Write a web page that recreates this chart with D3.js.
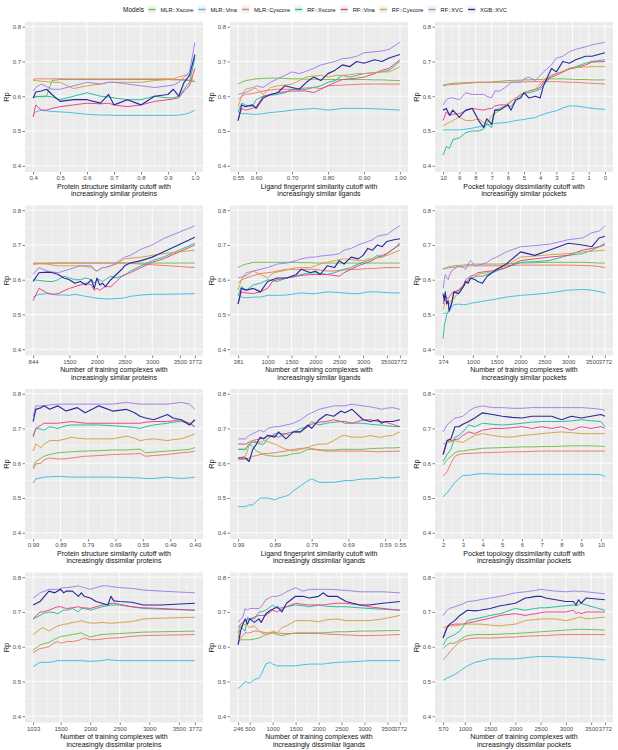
<!DOCTYPE html>
<html><head><meta charset="utf-8">
<script src="https://cdn.jsdelivr.net/npm/d3@7"></script>
<style>
body{margin:0;background:#fff}
svg{display:block}
text{font-family:"Liberation Sans",Arial,Helvetica,sans-serif}
</style></head>
<body><svg id="c" width="618" height="750"></svg>
<script>
const MODELS = ["MLR::Xscore","MLR::Vina","MLR::Cyscore","RF::Xscore","RF::Vina","RF::Cyscore","RF::XVC","XGB::XVC"];
const COLORS = ["#6DBE45","#3CBDE6","#F07470","#1EBC9C","#E8407F","#D4A03C","#A77BEA","#2A2A9C"];
const Y_TICKS = [0.4,0.5,0.6,0.7,0.8];

// Panel 1: protein similarity cutoff, increasingly similar
const P1_X = [0.40,0.41,0.43,0.45,0.47,0.50,0.55,0.60,0.65,0.68,0.70,0.75,0.80,0.85,0.90,0.92,0.94,0.96,0.98,1.00];
const P1_Y = [
 [0.597,0.600,0.598,0.600,0.645,0.648,0.648,0.648,0.648,0.648,0.648,0.648,0.648,0.648,0.648,0.647,0.647,0.646,0.645,0.642],
 [0.548,0.555,0.560,0.558,0.556,0.555,0.552,0.548,0.546,0.546,0.545,0.545,0.545,0.545,0.545,0.545,0.546,0.548,0.552,0.560],
 [0.648,0.650,0.650,0.650,0.650,0.650,0.650,0.650,0.650,0.650,0.650,0.650,0.650,0.650,0.650,0.649,0.648,0.648,0.646,0.642],
 [0.595,0.598,0.600,0.600,0.598,0.590,0.600,0.610,0.600,0.598,0.595,0.590,0.590,0.600,0.595,0.595,0.600,0.620,0.640,0.710],
 [0.540,0.575,0.560,0.560,0.565,0.570,0.575,0.580,0.578,0.580,0.575,0.570,0.575,0.585,0.590,0.592,0.595,0.615,0.630,0.680],
 [0.645,0.645,0.643,0.642,0.640,0.640,0.622,0.630,0.635,0.640,0.640,0.640,0.640,0.645,0.648,0.650,0.655,0.660,0.662,0.640],
 [0.615,0.625,0.635,0.628,0.620,0.620,0.630,0.640,0.635,0.640,0.640,0.635,0.630,0.625,0.630,0.632,0.640,0.655,0.670,0.755],
 [0.595,0.612,0.615,0.620,0.605,0.585,0.590,0.590,0.580,0.605,0.575,0.590,0.575,0.600,0.605,0.620,0.600,0.640,0.660,0.720]];
const P1_TICKS = [0.4,0.5,0.6,0.7,0.8,0.9,1.0];

// Panel 2: ligand similarity cutoff, increasingly similar
const P2_X = [0.55,0.56,0.57,0.59,0.60,0.62,0.64,0.66,0.68,0.70,0.72,0.74,0.76,0.78,0.80,0.82,0.84,0.86,0.88,0.90,0.93,0.95,0.97,1.00];
const P2_Y = [
 [0.635,0.640,0.645,0.648,0.650,0.651,0.652,0.652,0.651,0.650,0.650,0.649,0.649,0.648,0.648,0.648,0.648,0.648,0.648,0.648,0.647,0.647,0.646,0.645],
 [0.555,0.550,0.550,0.548,0.548,0.550,0.553,0.555,0.557,0.560,0.562,0.563,0.565,0.563,0.560,0.562,0.565,0.565,0.565,0.565,0.564,0.563,0.562,0.560],
 [0.590,0.600,0.605,0.608,0.610,0.615,0.618,0.620,0.620,0.620,0.622,0.624,0.625,0.622,0.630,0.631,0.632,0.633,0.634,0.635,0.635,0.635,0.635,0.635],
 [0.555,0.580,0.575,0.570,0.590,0.600,0.603,0.605,0.610,0.620,0.618,0.620,0.625,0.630,0.640,0.645,0.660,0.655,0.660,0.665,0.668,0.670,0.675,0.700],
 [0.530,0.565,0.560,0.565,0.570,0.600,0.605,0.610,0.613,0.615,0.615,0.615,0.610,0.620,0.630,0.640,0.648,0.650,0.652,0.655,0.665,0.675,0.680,0.705],
 [0.570,0.600,0.620,0.625,0.622,0.605,0.625,0.630,0.632,0.635,0.645,0.655,0.658,0.660,0.655,0.660,0.660,0.662,0.665,0.665,0.668,0.670,0.670,0.685],
 [0.605,0.608,0.610,0.620,0.630,0.625,0.640,0.650,0.660,0.670,0.665,0.672,0.680,0.690,0.695,0.700,0.708,0.710,0.715,0.725,0.728,0.730,0.735,0.755],
 [0.530,0.575,0.570,0.575,0.565,0.595,0.605,0.610,0.630,0.625,0.620,0.640,0.655,0.645,0.665,0.675,0.690,0.685,0.700,0.695,0.705,0.700,0.710,0.720]];
const P2_TICKS = [0.55,0.60,0.70,0.80,0.90,1.00];

// Panel 3: pocket dissimilarity cutoff, increasingly similar (reversed axis)
const P3_X = [10,9.8,9.6,9.4,9.0,8.6,8.2,7.8,7.5,7.3,7.0,6.8,6.5,6.0,5.8,5.5,5.2,5.0,4.7,4.3,4.0,3.8,3.3,3.0,2.6,2.2,1.8,1.2,0.8,0];
const P3_Y = [
 [0.632,0.634,0.636,0.637,0.638,0.639,0.640,0.640,0.640,0.640,0.641,0.642,0.643,0.645,0.645,0.646,0.646,0.647,0.647,0.648,0.648,0.649,0.650,0.650,0.650,0.649,0.648,0.648,0.647,0.647],
 [0.503,0.503,0.503,0.503,0.503,0.505,0.508,0.512,0.515,0.518,0.520,0.522,0.523,0.525,0.527,0.530,0.532,0.533,0.536,0.538,0.545,0.548,0.555,0.558,0.566,0.572,0.572,0.568,0.565,0.562],
 [0.630,0.632,0.633,0.634,0.635,0.637,0.638,0.640,0.640,0.640,0.640,0.640,0.640,0.640,0.640,0.641,0.641,0.641,0.642,0.642,0.642,0.642,0.642,0.642,0.641,0.640,0.640,0.638,0.637,0.635],
 [0.430,0.455,0.450,0.475,0.480,0.495,0.500,0.500,0.505,0.520,0.510,0.560,0.565,0.575,0.570,0.590,0.600,0.610,0.610,0.615,0.620,0.630,0.660,0.665,0.670,0.680,0.685,0.695,0.700,0.705],
 [0.530,0.555,0.545,0.548,0.550,0.558,0.565,0.562,0.560,0.563,0.565,0.572,0.575,0.575,0.585,0.595,0.605,0.610,0.615,0.620,0.625,0.640,0.655,0.660,0.670,0.678,0.682,0.690,0.698,0.700],
 [0.515,0.520,0.525,0.530,0.540,0.530,0.530,0.535,0.525,0.520,0.545,0.550,0.560,0.580,0.585,0.595,0.605,0.610,0.615,0.620,0.635,0.645,0.660,0.665,0.672,0.680,0.682,0.684,0.685,0.685],
 [0.575,0.590,0.595,0.595,0.590,0.610,0.605,0.605,0.605,0.600,0.595,0.615,0.615,0.630,0.640,0.640,0.640,0.650,0.655,0.645,0.660,0.670,0.690,0.710,0.715,0.728,0.735,0.742,0.748,0.755],
 [0.560,0.565,0.545,0.560,0.540,0.560,0.565,0.530,0.510,0.535,0.520,0.560,0.560,0.575,0.560,0.590,0.595,0.610,0.595,0.600,0.595,0.630,0.680,0.670,0.700,0.695,0.705,0.715,0.715,0.725]];
const P3_TICKS = [10,9,8,7,6,5,4,3,2,1,0];

// Panel 4: training complexes, increasingly similar proteins
const P4_X = [844,950,1100,1200,1300,1400,1500,1600,1700,1800,1900,1950,2000,2050,2100,2150,2250,2350,2450,2500,2600,2800,3000,3200,3772];
const P4_Y = [
 [0.645,0.646,0.647,0.648,0.648,0.648,0.648,0.648,0.648,0.648,0.648,0.648,0.648,0.648,0.648,0.648,0.648,0.648,0.648,0.648,0.648,0.648,0.648,0.648,0.648],
 [0.550,0.558,0.560,0.558,0.556,0.556,0.555,0.558,0.555,0.552,0.550,0.548,0.547,0.546,0.546,0.545,0.545,0.546,0.547,0.548,0.552,0.556,0.558,0.558,0.560],
 [0.648,0.648,0.648,0.648,0.648,0.648,0.648,0.648,0.648,0.648,0.648,0.648,0.648,0.648,0.648,0.648,0.648,0.648,0.648,0.648,0.647,0.645,0.643,0.641,0.635],
 [0.600,0.598,0.595,0.595,0.600,0.610,0.605,0.600,0.600,0.605,0.600,0.590,0.600,0.600,0.595,0.600,0.610,0.605,0.610,0.612,0.625,0.640,0.655,0.665,0.705],
 [0.540,0.575,0.562,0.558,0.560,0.568,0.575,0.580,0.585,0.590,0.585,0.570,0.575,0.570,0.575,0.580,0.580,0.595,0.610,0.615,0.620,0.635,0.650,0.660,0.700],
 [0.645,0.646,0.645,0.642,0.640,0.640,0.640,0.640,0.640,0.638,0.635,0.628,0.625,0.630,0.635,0.635,0.640,0.645,0.655,0.660,0.662,0.665,0.670,0.675,0.685],
 [0.615,0.635,0.625,0.622,0.620,0.625,0.630,0.635,0.640,0.640,0.640,0.630,0.625,0.630,0.635,0.635,0.640,0.648,0.660,0.665,0.670,0.688,0.700,0.718,0.755],
 [0.595,0.620,0.622,0.620,0.615,0.605,0.600,0.590,0.595,0.585,0.600,0.575,0.605,0.585,0.590,0.580,0.600,0.615,0.630,0.640,0.648,0.655,0.665,0.680,0.722]];
const P4_TICKS = [844,1500,2000,2500,3000,3500,3772];

// Panel 5: training complexes, increasingly similar ligands
const P5_X = [381,450,550,700,850,1000,1100,1200,1400,1600,1700,1900,2000,2100,2250,2400,2500,2600,2750,2900,3000,3100,3200,3300,3400,3500,3650,3772];
const P5_Y = [
 [0.635,0.640,0.645,0.650,0.650,0.650,0.650,0.650,0.650,0.650,0.649,0.649,0.648,0.648,0.648,0.648,0.648,0.648,0.648,0.648,0.648,0.648,0.648,0.648,0.648,0.648,0.648,0.648],
 [0.555,0.550,0.548,0.550,0.550,0.555,0.555,0.555,0.556,0.560,0.562,0.560,0.560,0.562,0.565,0.564,0.563,0.562,0.560,0.560,0.562,0.565,0.565,0.565,0.564,0.563,0.562,0.562],
 [0.590,0.600,0.605,0.612,0.618,0.620,0.622,0.625,0.630,0.630,0.630,0.630,0.630,0.628,0.625,0.625,0.627,0.628,0.630,0.630,0.631,0.632,0.632,0.633,0.634,0.635,0.635,0.635],
 [0.555,0.580,0.570,0.585,0.590,0.600,0.598,0.595,0.605,0.610,0.615,0.620,0.620,0.618,0.615,0.620,0.625,0.630,0.635,0.645,0.650,0.655,0.660,0.670,0.665,0.675,0.690,0.700],
 [0.530,0.565,0.562,0.560,0.565,0.575,0.595,0.600,0.605,0.610,0.612,0.615,0.615,0.615,0.615,0.612,0.610,0.620,0.630,0.640,0.645,0.650,0.655,0.665,0.670,0.675,0.690,0.705],
 [0.570,0.600,0.620,0.625,0.615,0.605,0.618,0.622,0.628,0.635,0.635,0.635,0.640,0.645,0.650,0.655,0.658,0.660,0.658,0.655,0.655,0.660,0.660,0.662,0.665,0.670,0.678,0.685],
 [0.605,0.608,0.612,0.625,0.630,0.635,0.640,0.645,0.648,0.655,0.660,0.665,0.665,0.668,0.670,0.672,0.675,0.685,0.690,0.700,0.705,0.710,0.715,0.725,0.728,0.730,0.745,0.755],
 [0.530,0.575,0.570,0.575,0.565,0.595,0.600,0.605,0.605,0.615,0.630,0.620,0.625,0.615,0.640,0.635,0.655,0.645,0.665,0.660,0.670,0.690,0.685,0.700,0.695,0.710,0.715,0.718]];
const P5_TICKS = [381,1000,1500,2000,2500,3000,3500,3772];

// Panel 6: training complexes, increasingly similar pockets
const P6_X = [374,400,420,450,480,500,550,600,700,800,850,900,950,1050,1100,1200,1300,1400,1500,1700,2000,2300,2600,3000,3300,3500,3650,3772];
const P6_Y = [
 [0.632,0.633,0.634,0.635,0.636,0.637,0.638,0.640,0.641,0.642,0.643,0.643,0.644,0.645,0.645,0.645,0.645,0.645,0.645,0.646,0.648,0.649,0.650,0.650,0.650,0.649,0.648,0.648],
 [0.503,0.503,0.503,0.505,0.508,0.510,0.520,0.528,0.530,0.528,0.528,0.530,0.532,0.535,0.535,0.538,0.540,0.542,0.545,0.550,0.555,0.558,0.562,0.570,0.572,0.570,0.566,0.562],
 [0.630,0.631,0.632,0.633,0.634,0.634,0.635,0.635,0.637,0.638,0.639,0.640,0.640,0.640,0.640,0.640,0.640,0.640,0.640,0.641,0.642,0.642,0.642,0.642,0.641,0.640,0.638,0.635],
 [0.430,0.470,0.480,0.500,0.505,0.510,0.530,0.560,0.570,0.580,0.590,0.600,0.605,0.608,0.610,0.610,0.615,0.620,0.625,0.635,0.650,0.652,0.655,0.670,0.675,0.685,0.695,0.705],
 [0.530,0.545,0.555,0.548,0.545,0.550,0.560,0.565,0.570,0.585,0.600,0.605,0.610,0.615,0.620,0.622,0.624,0.625,0.628,0.635,0.655,0.660,0.665,0.670,0.685,0.690,0.695,0.700],
 [0.515,0.525,0.540,0.535,0.530,0.530,0.540,0.545,0.565,0.580,0.590,0.595,0.600,0.610,0.615,0.618,0.620,0.625,0.630,0.640,0.665,0.668,0.672,0.675,0.680,0.682,0.684,0.685],
 [0.575,0.600,0.615,0.605,0.600,0.610,0.625,0.630,0.640,0.635,0.630,0.645,0.655,0.640,0.642,0.645,0.650,0.660,0.665,0.680,0.695,0.698,0.702,0.715,0.720,0.735,0.740,0.755],
 [0.560,0.540,0.565,0.530,0.540,0.510,0.530,0.565,0.560,0.580,0.595,0.590,0.605,0.600,0.595,0.590,0.610,0.620,0.630,0.645,0.680,0.670,0.685,0.705,0.700,0.695,0.720,0.725]];
const P6_TICKS = [374,1000,1500,2000,2500,3000,3500,3772];

// Panel 7: protein similarity cutoff, increasingly dissimilar (reversed axis)
const P7_X = [0.99,0.98,0.96,0.95,0.93,0.90,0.87,0.85,0.83,0.80,0.75,0.70,0.65,0.62,0.60,0.58,0.55,0.50,0.48,0.45,0.42,0.40];
const P7_Y = [
 [0.590,0.605,0.615,0.620,0.625,0.630,0.632,0.633,0.634,0.635,0.636,0.638,0.638,0.640,0.640,0.630,0.632,0.635,0.636,0.638,0.640,0.645],
 [0.543,0.555,0.558,0.560,0.561,0.562,0.561,0.560,0.560,0.560,0.560,0.560,0.559,0.558,0.558,0.556,0.556,0.560,0.558,0.556,0.558,0.560],
 [0.583,0.598,0.600,0.610,0.615,0.612,0.613,0.615,0.617,0.620,0.622,0.625,0.626,0.627,0.628,0.620,0.622,0.625,0.627,0.630,0.632,0.635],
 [0.680,0.700,0.698,0.695,0.705,0.700,0.708,0.710,0.710,0.710,0.710,0.708,0.705,0.703,0.700,0.705,0.710,0.715,0.718,0.720,0.715,0.705],
 [0.675,0.700,0.710,0.715,0.715,0.715,0.718,0.720,0.718,0.715,0.715,0.715,0.715,0.715,0.715,0.718,0.720,0.720,0.722,0.725,0.715,0.705],
 [0.635,0.655,0.645,0.655,0.665,0.665,0.670,0.675,0.672,0.670,0.670,0.670,0.678,0.672,0.665,0.668,0.670,0.665,0.668,0.670,0.678,0.685],
 [0.735,0.765,0.765,0.765,0.768,0.770,0.770,0.770,0.770,0.770,0.770,0.770,0.775,0.772,0.770,0.770,0.770,0.770,0.772,0.775,0.770,0.755],
 [0.720,0.755,0.760,0.765,0.755,0.765,0.750,0.755,0.760,0.745,0.765,0.750,0.755,0.745,0.735,0.730,0.725,0.740,0.730,0.725,0.710,0.725]];
const P7_TICKS = [0.99,0.89,0.79,0.69,0.59,0.49,0.40];

// Panel 8: ligand similarity cutoff, increasingly dissimilar (reversed axis)
const P8_X = [0.99,0.97,0.96,0.95,0.94,0.93,0.92,0.91,0.89,0.88,0.86,0.85,0.84,0.82,0.80,0.79,0.77,0.75,0.73,0.71,0.70,0.68,0.67,0.65,0.63,0.61,0.60,0.59,0.57,0.55];
const P8_Y = [
 [0.640,0.640,0.655,0.648,0.635,0.630,0.625,0.622,0.620,0.620,0.622,0.625,0.627,0.630,0.640,0.640,0.638,0.638,0.638,0.640,0.640,0.640,0.640,0.640,0.642,0.643,0.643,0.644,0.644,0.645],
 [0.475,0.475,0.480,0.480,0.490,0.500,0.500,0.500,0.495,0.500,0.505,0.510,0.520,0.535,0.550,0.555,0.545,0.545,0.545,0.548,0.550,0.550,0.552,0.555,0.555,0.556,0.560,0.558,0.558,0.560],
 [0.610,0.612,0.615,0.620,0.622,0.625,0.627,0.628,0.630,0.632,0.635,0.637,0.640,0.642,0.645,0.642,0.638,0.635,0.635,0.635,0.635,0.635,0.635,0.635,0.634,0.633,0.633,0.634,0.634,0.635],
 [0.640,0.640,0.655,0.660,0.660,0.655,0.655,0.670,0.685,0.685,0.685,0.680,0.690,0.700,0.705,0.720,0.710,0.715,0.718,0.720,0.715,0.715,0.715,0.715,0.712,0.710,0.710,0.708,0.706,0.705],
 [0.655,0.655,0.660,0.665,0.668,0.670,0.672,0.678,0.680,0.675,0.685,0.688,0.690,0.690,0.705,0.712,0.718,0.720,0.725,0.720,0.720,0.715,0.718,0.725,0.725,0.720,0.720,0.718,0.712,0.705],
 [0.615,0.620,0.650,0.665,0.662,0.660,0.665,0.662,0.655,0.650,0.640,0.638,0.635,0.640,0.645,0.650,0.655,0.655,0.665,0.678,0.680,0.675,0.675,0.675,0.680,0.675,0.675,0.678,0.680,0.690],
 [0.670,0.670,0.680,0.685,0.690,0.695,0.690,0.700,0.705,0.705,0.710,0.712,0.715,0.725,0.740,0.745,0.755,0.760,0.765,0.765,0.765,0.770,0.768,0.765,0.762,0.758,0.755,0.758,0.760,0.755],
 [0.615,0.615,0.605,0.640,0.655,0.675,0.670,0.680,0.675,0.690,0.670,0.680,0.690,0.690,0.710,0.700,0.725,0.740,0.735,0.750,0.745,0.755,0.745,0.725,0.720,0.725,0.715,0.720,0.720,0.725]];
const P8_TICKS = [0.99,0.89,0.79,0.69,0.59,0.55];

// Panel 9: pocket dissimilarity cutoff, increasingly dissimilar
const P9_X = [2.0,2.2,2.4,2.6,2.8,3.0,3.3,3.6,4.0,4.5,5.0,5.5,6.0,6.5,7.0,7.5,8.0,8.5,9.0,9.5,10.0,10.2];
const P9_Y = [
 [0.595,0.610,0.620,0.630,0.635,0.635,0.638,0.640,0.643,0.644,0.645,0.646,0.647,0.647,0.648,0.648,0.649,0.650,0.650,0.650,0.649,0.648],
 [0.503,0.515,0.530,0.545,0.555,0.565,0.565,0.568,0.570,0.569,0.568,0.568,0.568,0.568,0.568,0.568,0.568,0.568,0.568,0.568,0.567,0.562],
 [0.563,0.575,0.600,0.620,0.625,0.627,0.628,0.629,0.630,0.631,0.632,0.633,0.633,0.634,0.635,0.635,0.635,0.635,0.635,0.635,0.635,0.635],
 [0.605,0.625,0.640,0.675,0.680,0.690,0.710,0.705,0.715,0.712,0.710,0.712,0.715,0.718,0.720,0.720,0.720,0.722,0.725,0.722,0.720,0.705],
 [0.625,0.660,0.665,0.668,0.670,0.680,0.690,0.685,0.695,0.700,0.700,0.702,0.705,0.700,0.705,0.700,0.705,0.695,0.705,0.700,0.705,0.700],
 [0.655,0.660,0.662,0.665,0.662,0.660,0.670,0.680,0.685,0.680,0.676,0.675,0.680,0.682,0.685,0.688,0.690,0.688,0.685,0.685,0.685,0.685],
 [0.690,0.710,0.720,0.730,0.732,0.735,0.750,0.760,0.765,0.760,0.760,0.758,0.758,0.760,0.760,0.760,0.760,0.760,0.760,0.758,0.755,0.752],
 [0.625,0.665,0.670,0.705,0.705,0.712,0.720,0.730,0.745,0.740,0.735,0.732,0.730,0.735,0.735,0.735,0.725,0.735,0.730,0.735,0.740,0.735]];
const P9_TICKS = [2,3,4,5,6,7,8,9,10];

// Panel 10: training complexes, increasingly dissimilar proteins
const P10_X = [1033,1150,1200,1300,1400,1450,1500,1550,1600,1700,1800,1850,1900,2000,2100,2200,2300,2350,2400,2500,2700,2900,3200,3772];
const P10_Y = [
 [0.590,0.605,0.608,0.612,0.622,0.625,0.630,0.630,0.632,0.635,0.638,0.640,0.635,0.628,0.632,0.635,0.636,0.637,0.637,0.638,0.640,0.642,0.643,0.645],
 [0.543,0.555,0.555,0.555,0.558,0.560,0.560,0.560,0.560,0.560,0.560,0.560,0.559,0.558,0.559,0.560,0.563,0.562,0.561,0.560,0.560,0.560,0.560,0.560],
 [0.583,0.595,0.596,0.600,0.612,0.615,0.610,0.612,0.615,0.615,0.618,0.622,0.625,0.620,0.620,0.622,0.624,0.625,0.625,0.626,0.630,0.632,0.633,0.635],
 [0.680,0.690,0.695,0.700,0.698,0.695,0.700,0.705,0.705,0.710,0.700,0.710,0.710,0.705,0.710,0.715,0.718,0.720,0.720,0.720,0.715,0.710,0.708,0.705],
 [0.680,0.700,0.700,0.705,0.712,0.715,0.715,0.712,0.710,0.712,0.715,0.712,0.712,0.710,0.715,0.720,0.722,0.725,0.725,0.722,0.715,0.712,0.710,0.705],
 [0.635,0.650,0.655,0.645,0.655,0.660,0.662,0.665,0.665,0.670,0.672,0.675,0.672,0.668,0.668,0.670,0.668,0.668,0.668,0.670,0.672,0.680,0.682,0.685],
 [0.740,0.755,0.758,0.765,0.765,0.765,0.768,0.770,0.770,0.772,0.775,0.772,0.770,0.765,0.770,0.775,0.775,0.773,0.772,0.770,0.768,0.763,0.760,0.755],
 [0.720,0.730,0.740,0.760,0.755,0.760,0.765,0.755,0.760,0.760,0.745,0.755,0.745,0.740,0.730,0.725,0.720,0.745,0.732,0.730,0.728,0.720,0.720,0.725]];
const P10_TICKS = [1033,1500,2000,2500,3000,3500,3772];

// Panel 11: training complexes, increasingly dissimilar ligands
const P11_X = [246,300,350,400,450,500,600,700,750,850,950,1000,1100,1200,1300,1500,1650,1800,2000,2100,2200,2400,2600,2900,3100,3400,3772];
const P11_Y = [
 [0.610,0.620,0.620,0.620,0.620,0.620,0.622,0.625,0.628,0.635,0.638,0.640,0.635,0.632,0.635,0.640,0.640,0.640,0.640,0.640,0.641,0.643,0.643,0.645,0.645,0.646,0.647],
 [0.480,0.485,0.492,0.500,0.497,0.495,0.505,0.510,0.520,0.550,0.555,0.550,0.545,0.545,0.545,0.545,0.548,0.550,0.550,0.550,0.552,0.555,0.556,0.558,0.560,0.560,0.560],
 [0.610,0.625,0.632,0.640,0.640,0.640,0.645,0.645,0.643,0.640,0.640,0.640,0.640,0.638,0.638,0.638,0.638,0.638,0.638,0.637,0.636,0.635,0.634,0.632,0.632,0.633,0.635],
 [0.640,0.660,0.650,0.645,0.685,0.680,0.680,0.700,0.700,0.705,0.715,0.720,0.710,0.712,0.715,0.720,0.718,0.715,0.720,0.718,0.716,0.715,0.715,0.712,0.710,0.708,0.705],
 [0.655,0.665,0.670,0.675,0.678,0.680,0.685,0.690,0.690,0.690,0.700,0.705,0.700,0.708,0.715,0.725,0.722,0.720,0.720,0.720,0.722,0.725,0.725,0.720,0.715,0.710,0.705],
 [0.625,0.660,0.662,0.665,0.660,0.655,0.660,0.645,0.640,0.635,0.640,0.645,0.640,0.655,0.660,0.675,0.675,0.675,0.672,0.675,0.678,0.680,0.675,0.675,0.675,0.680,0.690],
 [0.670,0.680,0.685,0.710,0.705,0.710,0.710,0.710,0.715,0.735,0.742,0.745,0.745,0.750,0.758,0.770,0.760,0.765,0.765,0.765,0.765,0.764,0.762,0.758,0.758,0.758,0.755],
 [0.605,0.645,0.665,0.680,0.665,0.680,0.670,0.680,0.670,0.695,0.705,0.708,0.715,0.700,0.725,0.745,0.745,0.740,0.745,0.755,0.745,0.745,0.730,0.720,0.720,0.725,0.730]];
const P11_TICKS = [246,500,1000,1500,2000,2500,3000,3500,3772];

// Panel 12: training complexes, increasingly dissimilar pockets
const P12_X = [570,650,700,800,900,950,1050,1200,1300,1500,1700,1800,2000,2200,2300,2400,2500,2600,2800,3000,3150,3200,3250,3300,3400,3772];
const P12_Y = [
 [0.595,0.605,0.610,0.610,0.620,0.625,0.632,0.635,0.635,0.635,0.636,0.637,0.638,0.640,0.641,0.642,0.643,0.644,0.646,0.648,0.649,0.650,0.650,0.650,0.650,0.648],
 [0.503,0.510,0.513,0.520,0.530,0.535,0.545,0.555,0.558,0.565,0.565,0.565,0.565,0.568,0.570,0.571,0.572,0.572,0.571,0.570,0.569,0.569,0.568,0.568,0.567,0.562],
 [0.563,0.575,0.585,0.600,0.615,0.618,0.622,0.625,0.625,0.625,0.626,0.627,0.628,0.630,0.631,0.631,0.632,0.632,0.634,0.635,0.635,0.635,0.635,0.635,0.635,0.635],
 [0.605,0.625,0.628,0.635,0.645,0.655,0.675,0.680,0.683,0.690,0.695,0.700,0.710,0.705,0.708,0.710,0.712,0.712,0.715,0.718,0.720,0.718,0.720,0.725,0.720,0.705],
 [0.625,0.660,0.662,0.665,0.665,0.665,0.668,0.672,0.676,0.682,0.690,0.692,0.695,0.690,0.693,0.695,0.698,0.700,0.700,0.700,0.705,0.695,0.700,0.695,0.700,0.700],
 [0.655,0.658,0.660,0.660,0.662,0.664,0.665,0.665,0.665,0.662,0.660,0.662,0.665,0.675,0.677,0.678,0.680,0.680,0.680,0.675,0.680,0.682,0.685,0.685,0.680,0.685],
 [0.690,0.705,0.710,0.715,0.720,0.722,0.730,0.732,0.735,0.740,0.745,0.748,0.755,0.758,0.760,0.762,0.765,0.763,0.760,0.758,0.760,0.760,0.758,0.760,0.758,0.752],
 [0.625,0.655,0.665,0.675,0.690,0.695,0.705,0.703,0.705,0.710,0.718,0.720,0.725,0.740,0.742,0.745,0.745,0.740,0.735,0.730,0.730,0.720,0.735,0.725,0.740,0.735]];
const P12_TICKS = [570,1000,1500,2000,2500,3000,3500,3772];

const X_TITLES = [
 ["Protein structure similarity cutoff with","increasingly similar proteins"],
 ["Ligand fingerprint similarity cutoff with","increasingly similar ligands"],
 ["Pocket topology dissimilarity cutoff with","increasingly similar pockets"],
 ["Number of training complexes with","increasingly similar proteins"],
 ["Number of training complexes with","increasingly similar ligands"],
 ["Number of training complexes with","increasingly similar pockets"],
 ["Protein structure similarity cutoff with","increasingly dissimilar proteins"],
 ["Ligand fingerprint similarity cutoff with","increasingly dissimilar ligands"],
 ["Pocket topology dissimilarity cutoff with","increasingly dissimilar pockets"],
 ["Number of training complexes with","increasingly dissimilar proteins"],
 ["Number of training complexes with","increasingly dissimilar ligands"],
 ["Number of training complexes with","increasingly dissimilar pockets"]];

const PANELS = [
 {x:P1_X,y:P1_Y,t:P1_TICKS,f:".1f",rev:false},
 {x:P2_X,y:P2_Y,t:P2_TICKS,f:".2f",rev:false},
 {x:P3_X,y:P3_Y,t:P3_TICKS,f:"d",rev:true},
 {x:P4_X,y:P4_Y,t:P4_TICKS,f:"d",rev:false},
 {x:P5_X,y:P5_Y,t:P5_TICKS,f:"d",rev:false},
 {x:P6_X,y:P6_Y,t:P6_TICKS,f:"d",rev:false},
 {x:P7_X,y:P7_Y,t:P7_TICKS,f:".2f",rev:true},
 {x:P8_X,y:P8_Y,t:P8_TICKS,f:".2f",rev:true},
 {x:P9_X,y:P9_Y,t:P9_TICKS,f:"d",rev:false},
 {x:P10_X,y:P10_Y,t:P10_TICKS,f:"d",rev:false},
 {x:P11_X,y:P11_Y,t:P11_TICKS,f:"d",rev:false},
 {x:P12_X,y:P12_Y,t:P12_TICKS,f:"d",rev:false}];

const svg = d3.select("#c");
const COL_LEFT = [25,230,435], ROW_TOP = [22,205.5,389,572.5], PW = 178, PH = 150;
const Y_DOMAIN = [0.382, 0.8135];
const defs = svg.append("defs");

PANELS.forEach((p,i)=>{
  const r = Math.floor(i/3), c = i%3;
  const L = COL_LEFT[c], T = ROW_TOP[r];
  const g = svg.append("g").attr("transform",`translate(${L},${T})`);
  const ext = d3.extent(p.x), pad = (ext[1]-ext[0])*0.05;
  const x = d3.scaleLinear().domain([ext[0]-pad, ext[1]+pad]).range(p.rev?[PW,0]:[0,PW]);
  const y = d3.scaleLinear().domain(Y_DOMAIN).range([PH,0]);

  g.append("rect").attr("width",PW).attr("height",PH).attr("fill","#EBEBEB");
  const tx = p.t.slice().sort((a,b)=>a-b);
  const xMin = d3.pairs(tx).map(([a,b])=>(a+b)/2);
  const yMin = d3.pairs(Y_TICKS).map(([a,b])=>(a+b)/2);
  g.selectAll(".ymin").data(yMin).join("line").attr("x1",0).attr("x2",PW)
   .attr("y1",d=>y(d)).attr("y2",d=>y(d)).attr("stroke","#fff").attr("stroke-width",0.4);
  g.selectAll(".xmin").data(xMin).join("line").attr("y1",0).attr("y2",PH)
   .attr("x1",d=>x(d)).attr("x2",d=>x(d)).attr("stroke","#fff").attr("stroke-width",0.4);
  g.selectAll(".ymaj").data(Y_TICKS).join("line").attr("x1",0).attr("x2",PW)
   .attr("y1",d=>y(d)).attr("y2",d=>y(d)).attr("stroke","#fff").attr("stroke-width",0.85);
  g.selectAll(".xmaj").data(p.t).join("line").attr("y1",0).attr("y2",PH)
   .attr("x1",d=>x(d)).attr("x2",d=>x(d)).attr("stroke","#fff").attr("stroke-width",0.85);

  const cid = "clip"+i;
  defs.append("clipPath").attr("id",cid).append("rect").attr("width",PW).attr("height",PH);
  const lg = g.append("g").attr("clip-path",`url(#${cid})`);
  const line = d3.line().x((d,j)=>x(p.x[j])).y(d=>y(d));
  p.y.forEach((s,k)=>{
    lg.append("path").attr("d",line(s)).attr("fill","none")
      .attr("stroke",COLORS[k]).attr("stroke-width",k===7?1.15:0.95)
      .attr("stroke-linejoin","round");
  });

  const ya = g.append("g").call(d3.axisLeft(y).tickValues(Y_TICKS).tickSize(2.5).tickPadding(1.5).tickFormat(d3.format(".1f")));
  const xa = g.append("g").attr("transform",`translate(0,${PH})`)
     .call(d3.axisBottom(x).tickValues(p.t).tickSize(2.5).tickPadding(1.5).tickFormat(d3.format(p.f)));
  [ya,xa].forEach(a=>{
    a.select(".domain").remove();
    a.selectAll(".tick line").attr("stroke","#333").attr("stroke-width",0.6);
    a.selectAll(".tick text").attr("fill","#4D4D4D").style("font-size","6px")
      .style("font-family","'Liberation Sans',Arial,sans-serif");
  });

  g.append("text").attr("transform",`translate(${-19},${PH/2}) rotate(-90)`)
   .attr("text-anchor","middle").attr("dy","0.35em").style("font-size","7.5px").attr("fill","#111").text("Rp");
  X_TITLES[i].forEach((t,k)=>{
    g.append("text").attr("x",PW/2).attr("y",PH+16.5+k*7.6).attr("text-anchor","middle")
     .style("font-size","7px").attr("fill","#111").text(t);
  });
});

// legend
const leg = svg.append("g").attr("transform","translate(0,9.5)");
leg.append("text").attr("x",123).attr("y",0).attr("dy","0.35em").style("font-size","6.5px").attr("fill","#111").text("Models");
let lx = 148;
MODELS.forEach((m,k)=>{
  leg.append("rect").attr("x",lx).attr("y",-4).attr("width",8).attr("height",8).attr("fill","#F2F2F2");
  leg.append("line").attr("x1",lx+0.5).attr("x2",lx+7.5).attr("y1",0).attr("y2",0).attr("stroke",COLORS[k]).attr("stroke-width",1.4);
  const t = leg.append("text").attr("x",lx+12.5).attr("y",0).attr("dy","0.35em").style("font-size","5.7px").attr("fill","#111").text(m);
  lx += 12.5 + t.node().getComputedTextLength() + 4.6;
});
</script></body></html>
